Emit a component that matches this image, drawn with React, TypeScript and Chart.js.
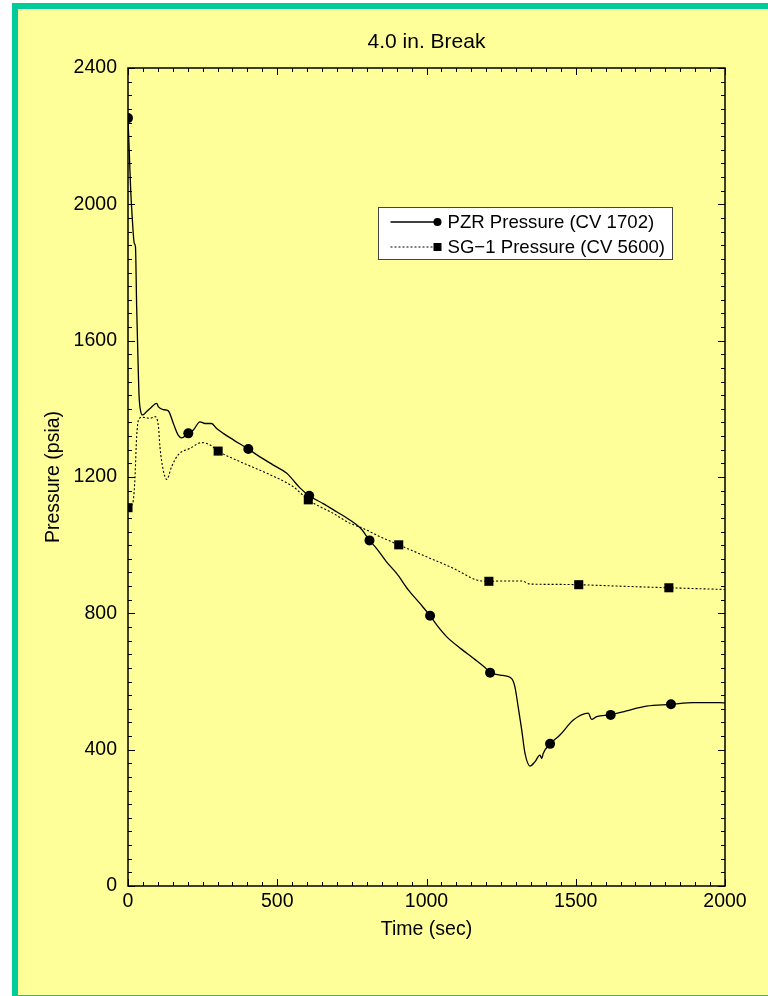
import React, { useEffect, useRef } from "react";
import { Chart, registerables } from "chart.js";

Chart.register(...registerables);

const TITLE = "4.0 in. Break";
const X_TITLE = "Time (sec)";
const Y_TITLE = "Pressure (psia)";
const LEGEND_LABELS = ["PZR Pressure (CV 1702)", "SG\u22121 Pressure (CV 5600)"];

const X_MIN = 0;
const X_MAX = 2000;
const X_MAJOR = 500;
const X_MINOR = 50;
const Y_MIN = 0;
const Y_MAX = 2400;
const Y_MAJOR = 400;
const Y_MINOR = 40;

// PZR Pressure (CV 1702) – continuous curve
const pzrTime = [
  0, 4, 9, 14, 21, 25, 29, 33, 37, 42, 49, 60, 74, 96, 102, 118, 135, 152, 168, 180,
  202, 219, 241, 258, 280, 297, 319, 353, 403, 442, 487, 532, 548, 576, 607, 654, 699,
  738, 783, 809, 833, 866, 900, 939, 978, 1012, 1034, 1068, 1117, 1157, 1196, 1213,
  1246, 1285, 1296, 1307, 1319, 1330, 1347, 1363, 1380, 1386, 1391, 1414, 1447, 1492,
  1542, 1553, 1570, 1617, 1670, 1737, 1819, 1894, 1983, 2000,
];
const pzrPressure = [
  2253, 2160, 2042, 1964, 1886, 1875, 1700, 1560, 1440, 1395, 1382, 1390, 1401, 1416,
  1406, 1398, 1394, 1357, 1323, 1315, 1328, 1338, 1362, 1357, 1357, 1342, 1328, 1309,
  1282, 1259, 1235, 1211, 1196, 1168, 1145, 1122, 1098, 1077, 1046, 1014, 990, 951, 917,
  869, 829, 793, 766, 731, 695, 668, 641, 626, 619, 609, 585, 526, 458, 389, 352, 364,
  384, 374, 389, 417, 443, 487, 507, 489, 497, 502, 514, 528, 533, 538, 538, 537,
];
// PZR markers
const pzrMarkTime = [0, 202, 403, 607, 809, 1012, 1213, 1414, 1617, 1819];
const pzrMarkPressure = [2253, 1328, 1282, 1145, 1014, 793, 626, 417, 502, 533];

// SG-1 Pressure (CV 5600) – continuous curve
const sgTime = [
  0, 10, 18, 23, 29, 35, 46, 60, 74, 90, 102, 107, 118, 130, 146, 168, 208, 247, 275,
  302, 375, 465, 554, 604, 688, 744, 788, 844, 907, 1000, 1090, 1168, 1209, 1260, 1319,
  1347, 1420, 1510, 1637, 1812, 2000,
];
const sgPressure = [
  1110, 1115, 1133, 1191, 1318, 1367, 1375, 1374, 1372, 1377, 1348, 1289, 1220, 1193,
  1230, 1265, 1284, 1301, 1294, 1276, 1245, 1211, 1171, 1133, 1093, 1064, 1049, 1025,
  1001, 966, 932, 898, 894, 895, 895, 886, 885, 884, 880, 875, 870,
];
// SG markers
const sgMarkTime = [0, 302, 604, 907, 1209, 1510, 1812];
const sgMarkPressure = [1110, 1276, 1133, 1001, 894, 884, 875];

const FONT = "'Liberation Sans', Arial, Helvetica, sans-serif";
const FONT_SIZE = 19.5;
const TITLE_SIZE = 21;
const LEGEND_SIZE = 18.6;

const toXY = (xs: number[], ys: number[]) => xs.map((x, i) => ({ x, y: ys[i] }));

const framePlugin = {
  id: "frameTicks",
  afterDatasetsDraw(chart: any) {
    const { ctx, chartArea: a, scales } = chart;
    const xs = scales.x;
    const ys = scales.y;
    ctx.save();
    ctx.strokeStyle = "#000";
    ctx.setLineDash([]);
    ctx.lineWidth = 1;
    ctx.beginPath();
    for (let v = X_MIN; v <= X_MAX; v += X_MINOR) {
      const px = Math.round(xs.getPixelForValue(v)) + 0.5;
      const len = v % X_MAJOR === 0 ? 7 : 4;
      ctx.moveTo(px, a.bottom);
      ctx.lineTo(px, a.bottom - len);
      ctx.moveTo(px, a.top);
      ctx.lineTo(px, a.top + len);
    }
    for (let v = Y_MIN; v <= Y_MAX; v += Y_MINOR) {
      const py = Math.round(ys.getPixelForValue(v)) + 0.5;
      const len = v % Y_MAJOR === 0 ? 7 : 4;
      ctx.moveTo(a.left, py);
      ctx.lineTo(a.left + len, py);
      ctx.moveTo(a.right, py);
      ctx.lineTo(a.right - len, py);
    }
    ctx.stroke();
    ctx.lineWidth = 1.5;
    ctx.strokeRect(a.left, a.top, a.right - a.left, a.bottom - a.top);
    ctx.restore();
  },
};

const legendPlugin = {
  id: "boxLegend",
  afterDraw(chart: any) {
    const { ctx, chartArea: a } = chart;
    const bx = Math.round(a.left + 250) + 0.5;
    const by = Math.round(a.top + 139) + 0.5;
    const bw = 294;
    const bh = 52;
    ctx.save();
    ctx.fillStyle = "#ffffff";
    ctx.fillRect(bx, by, bw, bh);
    ctx.strokeStyle = "#444";
    ctx.lineWidth = 1;
    ctx.setLineDash([]);
    ctx.strokeRect(bx, by, bw, bh);
    LEGEND_LABELS.forEach((label, i) => {
      const ds = chart.data.datasets[i];
      const cy = by + 14.5 + i * 25;
      ctx.strokeStyle = "#000";
      ctx.lineWidth = ds.borderWidth;
      ctx.setLineDash(ds.borderDash || []);
      ctx.beginPath();
      ctx.moveTo(bx + 12, cy);
      ctx.lineTo(bx + 59, cy);
      ctx.stroke();
      ctx.setLineDash([]);
      ctx.fillStyle = "#000";
      if (i === 0) {
        ctx.beginPath();
        ctx.arc(bx + 59, cy, 4, 0, Math.PI * 2);
        ctx.fill();
      } else {
        ctx.fillRect(bx + 55, cy - 4, 8, 8);
      }
      ctx.font = `${LEGEND_SIZE}px ${FONT}`;
      ctx.textBaseline = "middle";
      ctx.textAlign = "left";
      ctx.fillText(label, bx + 69, cy + 1);
    });
    ctx.restore();
  },
};

export default function App() {
  const canvasRef = useRef<HTMLCanvasElement | null>(null);

  useEffect(() => {
    if (!canvasRef.current) return;
    Chart.defaults.font.family = FONT;
    Chart.defaults.font.size = FONT_SIZE;
    Chart.defaults.color = "#000";
    const chart = new Chart(canvasRef.current, {
      type: "line",
      data: {
        datasets: [
          {
            label: LEGEND_LABELS[0],
            data: toXY(pzrTime, pzrPressure),
            borderColor: "#000",
            borderWidth: 1.3,
            pointRadius: 0,
            cubicInterpolationMode: "monotone",
            fill: false,
          },
          {
            label: LEGEND_LABELS[1],
            data: toXY(sgTime, sgPressure),
            borderColor: "#000",
            borderWidth: 1.1,
            borderDash: [2, 2],
            pointRadius: 0,
            cubicInterpolationMode: "monotone",
            fill: false,
          },
          {
            label: "PZR markers",
            data: toXY(pzrMarkTime, pzrMarkPressure),
            showLine: false,
            pointStyle: "circle",
            pointRadius: 5,
            pointBackgroundColor: "#000",
            pointBorderColor: "#000",
            pointBorderWidth: 0,
          },
          {
            label: "SG markers",
            data: toXY(sgMarkTime, sgMarkPressure),
            showLine: false,
            pointStyle: "rect",
            pointRadius: 6.4,
            pointBackgroundColor: "#000",
            pointBorderColor: "#000",
            pointBorderWidth: 0,
          },
        ],
      },
      options: {
        responsive: false,
        animation: false,
        events: [],
        layout: { padding: { left: 0, top: 0, right: 43, bottom: 0 } },
        plugins: {
          legend: { display: false },
          tooltip: { enabled: false },
          title: {
            display: true,
            text: TITLE,
            fullSize: false,
            font: { size: TITLE_SIZE, weight: "normal" },
            color: "#000",
            padding: { top: 20.9, bottom: 12.9 },
          },
        },
        scales: {
          x: {
            type: "linear",
            min: X_MIN,
            max: X_MAX,
            grid: { display: false, drawTicks: false },
            border: { display: false },
            ticks: {
              stepSize: X_MAJOR,
              padding: 4,
              autoSkip: false,
              maxRotation: 0,
              color: "#000",
              callback: (v: any) => String(v),
            },
            title: { display: true, text: X_TITLE, color: "#000", padding: { top: 0, bottom: 53.3 } },
            afterFit: (s: any) => {
              s.height = 109;
            },
          },
          y: {
            type: "linear",
            min: Y_MIN,
            max: Y_MAX,
            grid: { display: false, drawTicks: false },
            border: { display: false },
            ticks: {
              stepSize: Y_MAJOR,
              padding: 11,
              autoSkip: false,
              color: "#000",
              callback: (v: any) => String(v),
            },
            title: { display: true, text: Y_TITLE, color: "#000", padding: { top: 24.3, bottom: 0 } },
            afterFit: (s: any) => {
              s.width = 110;
            },
          },
        },
      },
      plugins: [framePlugin, legendPlugin],
    });
    return () => chart.destroy();
  }, []);

  return (
    <div
      style={{
        position: "fixed",
        left: 12,
        top: 3,
        right: 0,
        bottom: 0,
        boxSizing: "border-box",
        borderLeft: "6px solid #00CC99",
        borderTop: "6px solid #00CC99",
        borderBottom: "1px solid #00CC99",
        background: "#FFFF99",
        overflow: "hidden",
      }}
    >
      <canvas
        ref={canvasRef}
        width={750}
        height={986}
        style={{ position: "absolute", left: 0, top: 0, width: 750, height: 986 }}
      />
    </div>
  );
}
